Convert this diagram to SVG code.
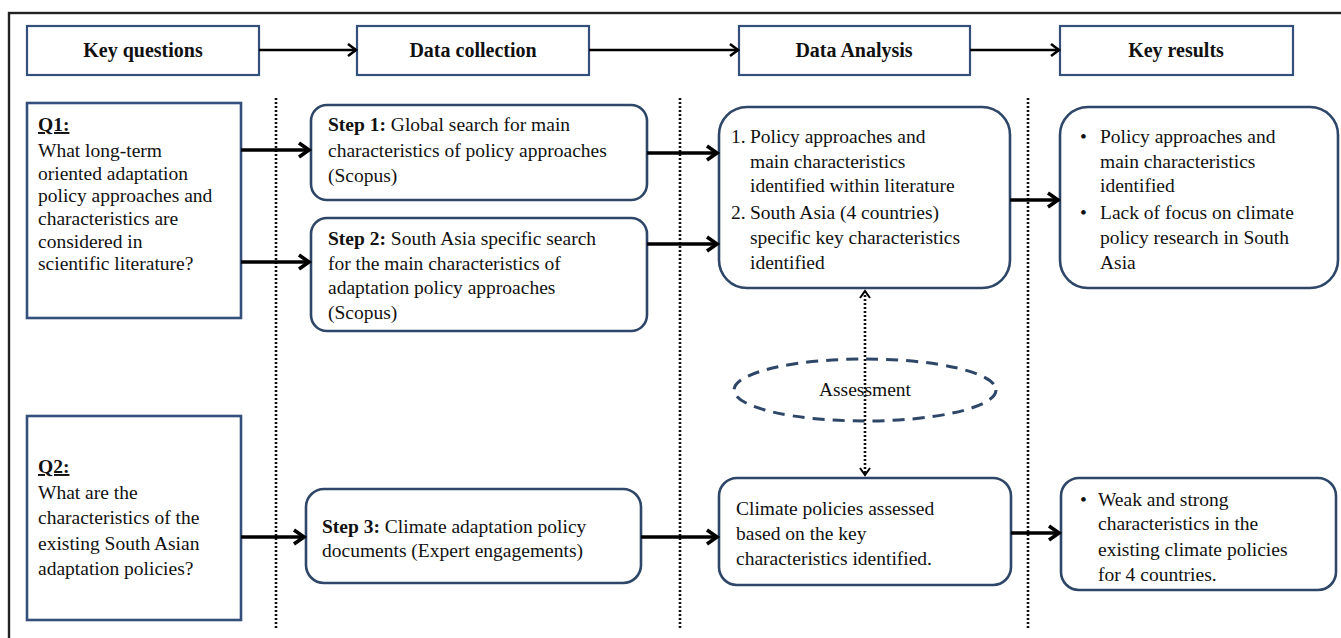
<svg xmlns="http://www.w3.org/2000/svg" width="1341" height="638" viewBox="0 0 1341 638">
<style>
.hdr{fill:#fff;stroke:#34507a;stroke-width:2.2}
.qb{fill:#fff;stroke:#34507a;stroke-width:2.6}
.rb{fill:#fff;stroke:#2e4668;stroke-width:2.6}
.t{font-family:"Liberation Serif","Times New Roman",serif;font-size:19.5px;fill:#111}
.th{font-family:"Liberation Serif","Times New Roman",serif;font-size:20px;font-weight:bold;fill:#111;text-anchor:middle}
.b{font-weight:bold}
.a{stroke:#000;stroke-width:3.6;fill:none}
.ah{stroke:#000;stroke-width:2.4;fill:none}
.dot{stroke:#111;stroke-width:2.6;stroke-dasharray:2 2;fill:none}
</style>
<defs>
<marker id="m" markerUnits="userSpaceOnUse" markerWidth="18" markerHeight="20" refX="14" refY="10" orient="auto"><path d="M4,3 L14,10 L4,17" fill="none" stroke="#000" stroke-width="3.6"/></marker>
<marker id="ms" markerUnits="userSpaceOnUse" markerWidth="16" markerHeight="18" refX="13" refY="9" orient="auto"><path d="M5,3 L13,9 L5,15" fill="none" stroke="#000" stroke-width="2.6"/></marker>
<marker id="md" markerUnits="userSpaceOnUse" markerWidth="14" markerHeight="14" refX="11" refY="7" orient="auto-start-reverse"><path d="M4,2 L11,7 L4,12" fill="none" stroke="#000" stroke-width="2"/></marker>
</defs>
<rect x="9" y="13" width="1400" height="700" fill="none" stroke="#222" stroke-width="2.4"/>

<g id="separators">
<line class="dot" x1="276" y1="98" x2="276" y2="628"/>
<line class="dot" x1="680" y1="98" x2="680" y2="628"/>
<line class="dot" x1="1028" y1="98" x2="1028" y2="628"/>
</g>

<g id="h-key-questions"><rect class="hdr" x="27" y="26" width="232" height="49"/><text class="th" x="143" y="57">Key questions</text></g>
<g id="h-data-collection"><rect class="hdr" x="357" y="26" width="232" height="49"/><text class="th" x="473" y="57">Data collection</text></g>
<g id="h-data-analysis"><rect class="hdr" x="739" y="26" width="231" height="49"/><text class="th" x="854" y="57">Data Analysis</text></g>
<g id="h-key-results"><rect class="hdr" x="1060" y="26" width="233" height="49"/><text class="th" x="1176" y="57">Key results</text></g>

<g id="q1"><rect class="qb" x="27" y="103" width="214" height="215"/>
<text class="t" x="38"><tspan x="38" y="131" class="b" text-decoration="underline">Q1:</tspan><tspan x="38" y="157">What long-term</tspan><tspan x="38" y="180">oriented adaptation</tspan><tspan x="38" y="202">policy approaches and</tspan><tspan x="38" y="225">characteristics are</tspan><tspan x="38" y="248">considered in</tspan><tspan x="38" y="270">scientific literature?</tspan></text></g>

<g id="q2"><rect class="qb" x="27" y="416" width="214" height="204"/>
<text class="t" x="38"><tspan x="38" y="473" class="b" text-decoration="underline">Q2:</tspan><tspan x="38" y="499">What are the</tspan><tspan x="38" y="524">characteristics of the</tspan><tspan x="38" y="550">existing South Asian</tspan><tspan x="38" y="575">adaptation policies?</tspan></text></g>

<g id="step1"><rect class="rb" x="311" y="105" width="336" height="95" rx="16"/>
<text class="t"><tspan x="328" y="131"><tspan class="b">Step 1:</tspan> Global search for main</tspan><tspan x="328" y="157">characteristics of policy approaches</tspan><tspan x="328" y="182">(Scopus)</tspan></text></g>

<g id="step2"><rect class="rb" x="311" y="218" width="336" height="113" rx="16"/>
<text class="t"><tspan x="328" y="245"><tspan class="b">Step 2:</tspan> South Asia specific search</tspan><tspan x="328" y="270">for the main characteristics of</tspan><tspan x="328" y="294">adaptation policy approaches</tspan><tspan x="328" y="319">(Scopus)</tspan></text></g>

<g id="step3"><rect class="rb" x="306" y="489" width="335" height="94" rx="18"/>
<text class="t"><tspan x="322" y="533"><tspan class="b">Step 3:</tspan> Climate adaptation policy</tspan><tspan x="322" y="557">documents (Expert engagements)</tspan></text></g>

<g id="analysis1"><rect class="rb" x="719" y="107" width="291" height="181" rx="28"/>
<text class="t"><tspan x="731" y="143">1.</tspan><tspan x="750" y="143">Policy approaches and</tspan><tspan x="750" y="168">main characteristics</tspan><tspan x="750" y="192">identified within literature</tspan><tspan x="731" y="219">2.</tspan><tspan x="750" y="219">South Asia (4 countries)</tspan><tspan x="750" y="244">specific key characteristics</tspan><tspan x="750" y="269">identified</tspan></text></g>

<g id="assessment"><ellipse cx="865" cy="390" rx="131" ry="31" fill="none" stroke="#2e4668" stroke-width="3" stroke-dasharray="12 8"/><text class="t" x="865" y="396" text-anchor="middle">Assessment</text></g>

<g id="analysis2"><rect class="rb" x="719" y="478" width="292" height="107" rx="18"/>
<text class="t"><tspan x="736" y="515">Climate policies assessed</tspan><tspan x="736" y="540">based on the key</tspan><tspan x="736" y="565">characteristics identified.</tspan></text></g>

<g id="result1"><rect class="rb" x="1060" y="107" width="278" height="181" rx="28"/>
<text class="t"><tspan x="1080" y="143">•</tspan><tspan x="1100" y="143">Policy approaches and</tspan><tspan x="1100" y="168">main characteristics</tspan><tspan x="1100" y="192">identified</tspan><tspan x="1080" y="219">•</tspan><tspan x="1100" y="219">Lack of focus on climate</tspan><tspan x="1100" y="244">policy research in South</tspan><tspan x="1100" y="269">Asia</tspan></text></g>

<g id="result2"><rect class="rb" x="1061" y="478" width="275" height="112" rx="18"/>
<text class="t"><tspan x="1080" y="506">•</tspan><tspan x="1098" y="506">Weak and strong</tspan><tspan x="1098" y="530">characteristics in the</tspan><tspan x="1098" y="556">existing climate policies</tspan><tspan x="1098" y="581">for 4 countries.</tspan></text></g>

<g id="connectors">
<line class="ah" x1="259" y1="50" x2="356" y2="50" marker-end="url(#ms)"/>
<line class="ah" x1="589" y1="50" x2="738" y2="50" marker-end="url(#ms)"/>
<line class="ah" x1="970" y1="50" x2="1059" y2="50" marker-end="url(#ms)"/>
<line class="a" x1="241" y1="150" x2="309" y2="150" marker-end="url(#m)"/>
<line class="a" x1="241" y1="262" x2="309" y2="262" marker-end="url(#m)"/>
<line class="a" x1="647" y1="153" x2="717" y2="153" marker-end="url(#m)"/>
<line class="a" x1="647" y1="244" x2="717" y2="244" marker-end="url(#m)"/>
<line class="a" x1="1010" y1="200" x2="1058" y2="200" marker-end="url(#m)"/>
<line class="a" x1="241" y1="537" x2="304" y2="537" marker-end="url(#m)"/>
<line class="a" x1="641" y1="537" x2="717" y2="537" marker-end="url(#m)"/>
<line class="a" x1="1011" y1="533" x2="1059" y2="533" marker-end="url(#m)"/>
<line x1="865" y1="291" x2="865" y2="475" stroke="#111" stroke-width="2.6" stroke-dasharray="2 2" marker-start="url(#md)" marker-end="url(#md)"/>
</g>
</svg>
